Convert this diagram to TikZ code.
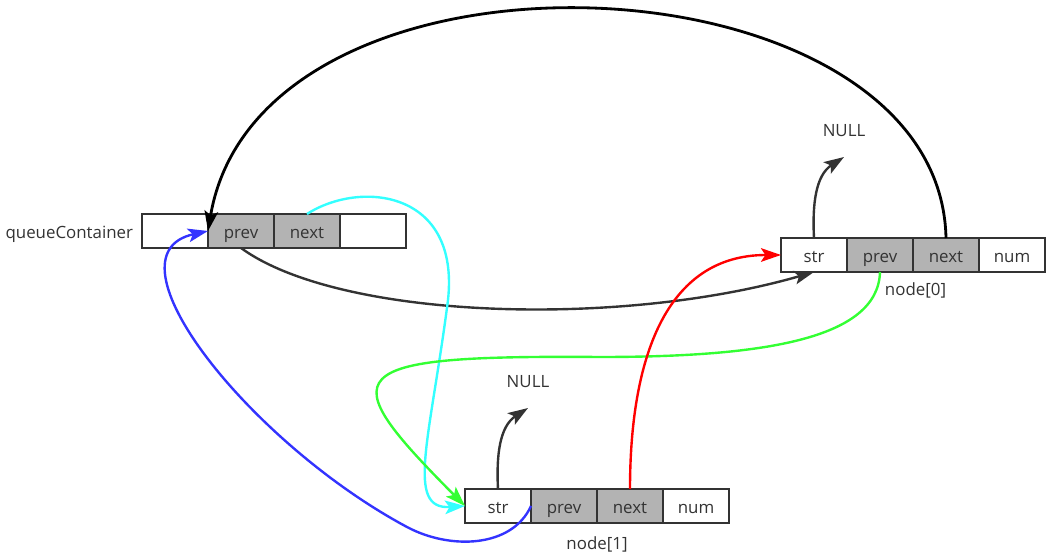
\documentclass[tikz,border=0pt]{standalone}
\usepackage{fontspec}
\setmainfont{Open Sans}
\usetikzlibrary{arrows.meta, positioning}
\definecolor{boxdark}{HTML}{333333}
\definecolor{ptrgray}{HTML}{B3B3B3}
\definecolor{linkcyan}{HTML}{33FFFF}
\definecolor{linkgreen}{HTML}{33FF33}
\definecolor{linkblue}{HTML}{3333FF}
\definecolor{linkred}{HTML}{FF0000}

\begin{document}
\begin{tikzpicture}[font=\fontsize{12}{14}\selectfont, text=boxdark,
    >={Stealth[length=5mm, width=3.4mm, inset=1.1mm]},
    cell/.style={rectangle, draw=boxdark, line width=1.8pt, minimum width=1.65cm,
      minimum height=0.85cm, inner sep=0pt, outer sep=0pt,
      text height=2.2ex, text depth=0.3ex},
    ptrcell/.style={cell, fill=ptrgray},
    tag/.style={text height=2.2ex, text depth=0.3ex},
    link/.style={->, line width=1.7pt}]

    \useasboundingbox (0,0) rectangle (26.55,13.85);

    % queueContainer
    \node (qc-a) [cell] at (4.375,8.075) {};
    \node (qc-prev) [ptrcell, right=0pt of qc-a] {prev};
    \node (qc-next) [ptrcell, right=0pt of qc-prev] {next};
    \node (qc-d) [cell, right=0pt of qc-next] {};
    \node (qc-label) [tag, left=0.1cm of qc-a] {queueContainer};

    % node[0]
    \node (n0-str) [cell] at (20.35,7.475) {str};
    \node (n0-prev) [ptrcell, right=0pt of n0-str] {prev};
    \node (n0-next) [ptrcell, right=0pt of n0-prev] {next};
    \node (n0-num) [cell, right=0pt of n0-next] {num};
    \node (n0-label) [tag, below right=0.05cm and 0pt of n0-prev.south] {node[0]};

    % node[1]
    \node (n1-str) [cell] at (12.45,1.2) {str};
    \node (n1-prev) [ptrcell, right=0pt of n1-str] {prev};
    \node (n1-next) [ptrcell, right=0pt of n1-prev] {next};
    \node (n1-num) [cell, right=0pt of n1-next] {num};
    \node (n1-label) [tag, inner sep=1pt, below=0.2cm of n1-next.south west] {node[1]};

    % NULL ends
    \node (null0) [tag] at (21.1,10.625) {NULL};
    \node (null1) [tag] at (13.2,4.35) {NULL};
    \coordinate [below=0.7cm of null0.center] (null0-end);
    \coordinate [below=0.7cm of null1.center] (null1-end);

    \draw[link, boxdark] (n0-str.north) to[out=93, in=213] (null0-end);
    \draw[link, boxdark] (n1-str.north) to[out=93, in=213] (null1-end);

    % pointers
    \draw[link, black, line width=2pt] (n0-next.north)
      .. controls (23.5,15.1) and (6.5,15.85) .. (qc-prev.west);
    \draw[link, boxdark] (qc-prev.south)
      .. controls (8.5,5.85) and (15.5,5.65) .. (n0-str.south);
    \draw[link, linkcyan] (qc-next.north)
      .. controls (9,9.35) and (11.5,9.1) .. (11.2,6.35)
      .. controls (10.75,2.85) and (10.125,1.1) .. (n1-str.west);
    \draw[link, linkgreen] (n0-prev.south)
      .. controls (21.95,5.35) and (19,4.925) .. (15,4.925)
      .. controls (8.375,4.975) and (8.3,4.55) .. (n1-str.west);
    \draw[link, linkblue] (n1-prev.west)
      .. controls (12.8,0.15) and (11.25,0.1) .. (10.175,0.675)
      .. controls (6.25,2.775) and (2.5,7.475) .. (qc-prev.west);
    \draw[link, linkred] (n1-next.north)
      .. controls (15.75,4.85) and (16.625,7.475) .. (n0-str.west);
\end{tikzpicture}
\end{document}
